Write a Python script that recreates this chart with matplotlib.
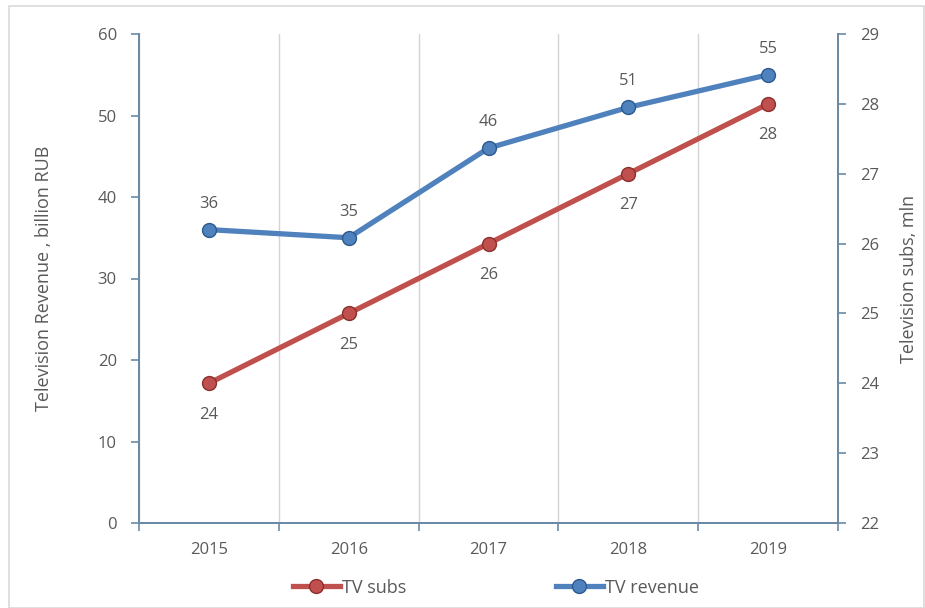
import matplotlib
matplotlib.use('Agg')

import matplotlib.pyplot as plt
from matplotlib.patches import Rectangle

# ==========================
# Dados
# ==========================
years = ["2015", "2016", "2017", "2018", "2019"]
tv_revenue = [36, 35, 46, 51, 55]   # bilhões RUB (eixo esquerdo)
tv_subs = [24, 25, 26, 27, 28]      # milhões (eixo direito)

left_ticks = [0, 10, 20, 30, 40, 50, 60]
right_ticks = [22, 23, 24, 25, 26, 27, 28, 29]

plt.rcParams['font.family'] = ['Open Sans', 'DejaVu Sans']

text_color = "#595959"
axis_color = "#6a8aa5"
red = "#c0504d"
red_edge = "#8c2f2c"
blue = "#4f81bd"
blue_edge = "#2c5a8f"

fig = plt.figure(figsize=(9.25, 6.08), dpi=100)
ax = fig.add_axes([139 / 925, 85 / 608, 699 / 925, 489 / 608])
ax2 = ax.twinx()

x = list(range(len(years)))

# ==========================
# Linhas
# ==========================
ax.plot(x, tv_revenue, color=blue, lw=3.8, marker='o', ms=10,
        mfc=blue, mec=blue_edge, mew=1.0, label="TV revenue", zorder=3)
ax2.plot(x, tv_subs, color=red, lw=3.8, marker='o', ms=10,
         mfc=red, mec=red_edge, mew=1.0, label="TV subs", zorder=3)

for xi, v in zip(x, tv_revenue):
    ax.annotate(f"{v:.0f}", (xi, v), xytext=(0, 13), textcoords="offset points",
                ha="center", va="bottom", fontsize=12, color=text_color)
for xi, v in zip(x, tv_subs):
    ax2.annotate(f"{v:.0f}", (xi, v), xytext=(0, -17), textcoords="offset points",
                 ha="center", va="top", fontsize=12, color=text_color)

# ==========================
# Eixos
# ==========================
ax.set_xlim(-0.5, len(years) - 0.5)
ax.set_ylim(0, 60)
ax2.set_ylim(22, 29)

ax.set_xticks(x)
ax.set_xticklabels(years)
ax.set_xticks([i - 0.5 for i in range(len(years) + 1)], minor=True)
ax.tick_params(axis='x', which='major', length=0, pad=14, labelsize=12,
               labelcolor=text_color)
ax.tick_params(axis='x', which='minor', length=6, width=1.2, color=axis_color)
ax.grid(True, axis='x', which='minor', color="#d4d4d4", lw=1.0)

ax.set_yticks(left_ticks)
ax.tick_params(axis='y', length=6, width=1.2, color=axis_color, pad=10,
               labelsize=12, labelcolor=text_color)
ax2.set_yticks(right_ticks)
ax2.tick_params(axis='y', length=6, width=1.2, color=axis_color, pad=10,
                labelsize=12, labelcolor=text_color)

for a in (ax, ax2):
    a.spines['top'].set_visible(False)
    for s in ('left', 'right', 'bottom'):
        a.spines[s].set_color(axis_color)
        a.spines[s].set_linewidth(1.4)

ax.set_ylabel("Television Revenue , billion RUB", fontsize=13,
              color=text_color, labelpad=32)
ax2.set_ylabel("Television subs, mln", fontsize=13, color=text_color,
               labelpad=15)

# ==========================
# Legenda
# ==========================
h2, l2 = ax2.get_legend_handles_labels()
h1, l1 = ax.get_legend_handles_labels()
fig.legend(h2 + h1, l2 + l1, loc="lower center", ncol=2, frameon=False,
           fontsize=13, labelcolor=text_color, handlelength=2.6,
           handletextpad=0.1, columnspacing=8.3,
           bbox_to_anchor=(0.536, -0.008))

# moldura do gráfico
fig.patches.append(Rectangle((9 / 925, 0), 915 / 925, 602 / 608,
                             transform=fig.transFigure, fill=False,
                             edgecolor="#d9d9d9", lw=1.2))

fig.savefig("out.png", dpi=100)
plt.close(fig)
